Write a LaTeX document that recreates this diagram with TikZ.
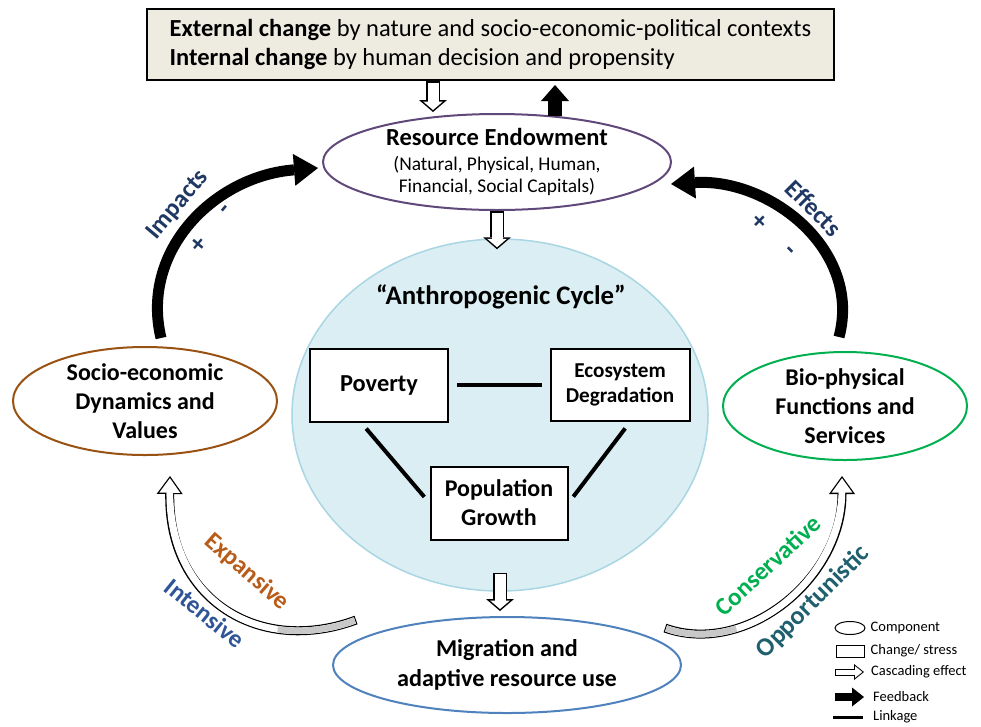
\documentclass[tikz,border=0pt]{standalone}
\usepackage{fontspec}
\setmainfont{Carlito}
\usepackage{tikz}
\usetikzlibrary{shapes,arrows.meta,calc,positioning}
\definecolor{topFill}{HTML}{EEECE1}
\definecolor{resPurple}{HTML}{60497A}
\definecolor{socioBrown}{HTML}{9A5212}
\definecolor{bioGreen}{HTML}{00B050}
\definecolor{migBlue}{HTML}{4F81BD}
\definecolor{cycleFill}{HTML}{DBEEF3}
\definecolor{cycleLine}{HTML}{A9D6E3}
\definecolor{labNavy}{HTML}{203864}
\definecolor{expBrown}{HTML}{B85C19}
\definecolor{intBlue}{HTML}{2F5597}
\definecolor{oppTeal}{HTML}{1F5F6E}
\definecolor{shadeGray}{HTML}{C8C8C8}
\tikzstyle{topbox} = [draw, rectangle, line width=2pt, fill=topFill, align=left, minimum width=687pt, minimum height=71pt, font=\fontsize{24.5}{29}\selectfont]
\tikzstyle{comp} = [draw, ellipse, line width=2pt, fill=white, align=center, inner sep=-5pt, font=\fontsize{24}{29}\selectfont\bfseries]
\tikzstyle{stress} = [draw, rectangle, line width=2pt, fill=white, align=center, font=\fontsize{24.4}{29}\selectfont\bfseries]
\tikzstyle{cycle} = [draw=cycleLine, ellipse, line width=1.5pt, fill=cycleFill, minimum width=416pt, minimum height=352pt]
\tikzstyle{link} = [draw, line width=4pt, shorten <=8pt, shorten >=8pt]
\tikzstyle{lab} = [font=\fontsize{25}{29}\selectfont\bfseries]
\tikzstyle{sign} = [text=labNavy, font=\fontsize{26}{29}\selectfont\bfseries]
\tikzstyle{legtext} = [font=\fontsize{14.5}{17}\selectfont, inner sep=0pt]
\tikzstyle{feedback} = [draw, line width=14pt, -{Triangle[length=16pt,width=28pt,line width=0pt]}]
\tikzstyle{feedcurve} = [draw, line width=11pt, -{Triangle[length=24pt,width=32pt,line width=0pt]}]
\tikzstyle{cascade} = [draw, line width=14pt, -{Triangle[length=12pt,width=28pt,line width=0pt]},
  postaction={draw, white, line width=11pt, shorten <=1.5pt, shorten >=2pt, -{Triangle[length=8.5pt,width=19.8pt,line width=0pt]}},
  postaction={draw, white, line width=11pt, shorten <=1.5pt, shorten >=8pt, -}]
\tikzstyle{cascurve} = [draw, line width=9pt, -{Triangle[length=18pt,width=26pt,line width=0pt]},
  postaction={draw, white, line width=6.4pt, shorten <=1.3pt, shorten >=2.2pt, -{Triangle[length=14.5pt,width=20.9pt,line width=0pt]}},
  postaction={draw, white, line width=6.4pt, shorten <=1.3pt, shorten >=10pt, -}]
\tikzstyle{tailshade} = [draw=shadeGray, line width=6.4pt, shorten <=1.3pt]
\tikzstyle{legcascade} = [draw, line width=7pt, -{Triangle[length=10pt,width=16pt,line width=0pt]},
  postaction={draw, white, line width=5pt, shorten <=1pt, shorten >=1.6pt, -{Triangle[length=7.4pt,width=11.8pt,line width=0pt]}},
  postaction={draw, white, line width=5pt, shorten <=1pt, shorten >=6.5pt, -}]
\tikzstyle{legfeedback} = [draw, line width=8pt, -{Triangle[length=12pt,width=19pt,line width=0pt]}]

\begin{document}
\begin{tikzpicture}[x=1pt, y=-1pt]
    \useasboundingbox (0,0) rectangle (981,726);
    % change / stress context
    \node[topbox] (context) at (490.5,44.5) {\textbf{External change} by nature and socio-economic-political contexts\\ \textbf{Internal change} by human decision and propensity};
    % anthropogenic cycle
    \node[cycle] (cycle) at (500,415) {};
    \node[font=\fontsize{26.8}{30}\selectfont\bfseries] (cycletitle) at (501,297) {“Anthropogenic Cycle”};
    \node[stress, minimum width=138pt, minimum height=73pt] (poverty) at (379,385) {Poverty};
    \node[stress, minimum width=139pt, minimum height=72pt, font=\fontsize{21.2}{25}\selectfont\bfseries] (eco) at (620,385) {Ecosystem\\ Degradation};
    \node[stress, minimum width=137pt, minimum height=73pt, font=\fontsize{24}{29}\selectfont\bfseries] (pop) at (499,503) {Population\\ Growth};
    \path[link] (poverty) -- (eco);
    \path[link] ([xshift=-18pt]poverty.south) -- (pop.west);
    \path[link] ([xshift=10pt]eco.south) -- (pop.east);
    % components
    \node[comp, draw=resPurple, minimum width=348pt, minimum height=96pt, inner sep=-3pt, font=\fontsize{19.4}{22}\selectfont] (resource) at (497,162) {{\fontsize{24.5}{22}\selectfont\bfseries Resource Endowment}\\[3pt] (Natural, Physical, Human,\\ Financial, Social Capitals)};
    \node[comp, draw=socioBrown, minimum width=264pt, minimum height=108pt] (socio) at (145,401) {Socio-economic\\ Dynamics and\\ Values};
    \node[comp, draw=bioGreen, minimum width=244pt, minimum height=108pt] (bio) at (845,406) {Bio-physical\\ Functions and\\ Services};
    \node[comp, draw=migBlue, minimum width=348pt, minimum height=96pt, font=\fontsize{24.2}{30}\selectfont\bfseries] (migration) at (507,665) {Migration and\\ adaptive resource use};
    % cascading effects and feedback
    \path[cascade] ($(context.south)+(-57.5,0)$) -- ($(resource.north)+(-64,-1)$);
    \path[feedback] ($(resource.north)+(58,3)$) -- ($(context.south)+(64.5,4)$);
    \path[cascade] (resource.south) -- ($(resource.south |- cycle.north)+(0,11)$);
    \path[cascade] ($(cycle.south)+(0,-19)$) -- ($(cycle.south |- migration.north)+(0,-5)$);
    \coordinate (impTail) at (161,338);
    \coordinate (impHead) at (318,168);
    \path[feedcurve] (impTail) .. controls (140,250) and (215,176) .. (impHead);
    \coordinate (effTail) at (839,337);
    \coordinate (effHead) at (671,184);
    \path[feedcurve] (effTail) .. controls (862,250) and (770,178) .. (effHead);
    \coordinate (expTail) at (356,620);
    \coordinate (expMid) at (277.6,629.3);
    \coordinate (expHead) at (170,476);
    \path[cascurve] (expTail) .. controls (330.2,629.6) and (303,633) .. (expMid) .. controls (218.2,620.6) and (168.6,573.3) .. (expHead);
    \path[tailshade] (expTail) .. controls (330.2,629.6) and (303,633) .. (expMid);
    \coordinate (conTail) at (665,628);
    \coordinate (conMid) at (736.3,628.6);
    \coordinate (conHead) at (842,476);
    \path[cascurve] (conTail) .. controls (687.5,636.1) and (712.4,635.9) .. (conMid) .. controls (792,611.6) and (842,555.8) .. (conHead);
    \path[tailshade] (conTail) .. controls (687.5,636.1) and (712.4,635.9) .. (conMid);
    % labels
    \node[lab, text=labNavy, rotate=50] (impacts) at (178,205) {Impacts};
    \node[sign, rotate=50] (impPlus) at (199,245) {+};
    \node[sign, rotate=50] (impMinus) at (227,211) {-};
    \node[lab, text=labNavy, rotate=-45] (effects) at (814,208) {Effects};
    \node[sign, rotate=-45] (effPlus) at (759,222) {+};
    \node[sign, rotate=-45] (effMinus) at (788,252) {-};
    \node[lab, text=expBrown, rotate=-41] (expansive) at (247,572) {Expansive};
    \node[lab, text=intBlue, rotate=-39] (intensive) at (205,613) {Intensive};
    \node[lab, text=bioGreen, rotate=43] (conservative) at (768,565) {Conservative};
    \node[lab, text=oppTeal, rotate=45, font=\fontsize{26}{30}\selectfont\bfseries] (opportunistic) at (813,602) {Opportunistic};
    % legend
    \node[draw, ellipse, line width=1pt, minimum width=30pt, minimum height=13pt, inner sep=0pt] (legComp) at (850,628) {};
    \node[legtext, right=5pt of legComp] {Component};
    \node[draw, rectangle, line width=1pt, minimum width=28pt, minimum height=12pt, inner sep=0pt] (legChange) at (850,651) {};
    \node[legtext, right=6pt of legChange] {Change/ stress};
    \coordinate (legCascA) at (835,672);
    \coordinate (legCascB) at (864,672);
    \path[legcascade] (legCascA) -- (legCascB);
    \node[legtext, right=7pt of legCascB] {Cascading effect};
    \coordinate (legFeedA) at (835,697);
    \coordinate (legFeedB) at (864,697);
    \path[legfeedback] (legFeedA) -- (legFeedB);
    \node[legtext, right=9pt of legFeedB] {Feedback};
    \coordinate (legLinkA) at (833,717);
    \coordinate (legLinkB) at (863,717);
    \path[draw, line width=3pt] (legLinkA) -- (legLinkB);
    \node[legtext, right=10pt of legLinkB] {Linkage};
\end{tikzpicture}
\end{document}
